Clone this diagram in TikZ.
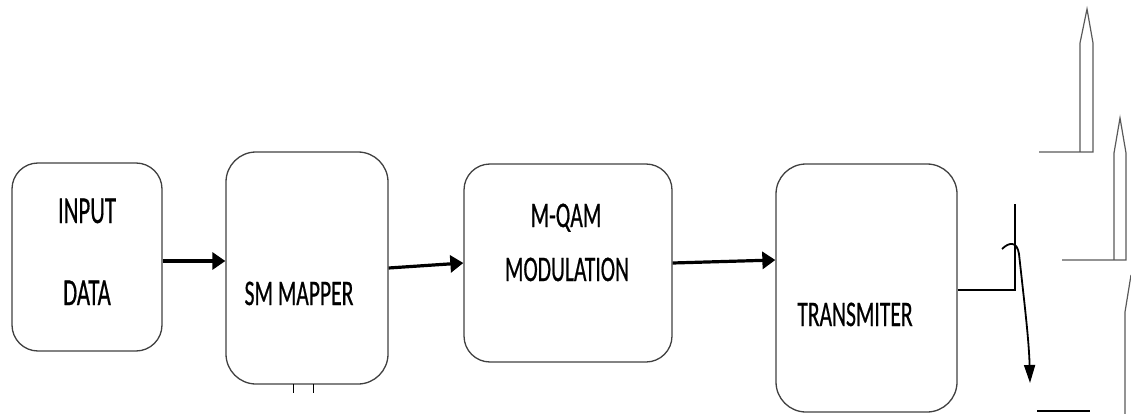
\documentclass[tikz,border=0pt]{standalone}
\usepackage{fontspec}
\usepackage{graphicx}
\setmainfont{Carlito}
\newfontfamily\lblfont[FakeBold=0.8]{Carlito}
\usetikzlibrary{arrows.meta}
\newcommand{\narrow}[1]{\scalebox{0.6}[1]{#1}}
\begin{document}
\begin{tikzpicture}[x=1pt,y=-1pt,
  blk/.style={draw=black!75,line width=1.3pt,rounded corners=26pt,inner sep=0pt},
  lbl/.style={font=\lblfont\fontsize{36}{40}\selectfont,inner sep=0pt,anchor=base,text=black},
  lblbig/.style={font=\lblfont\fontsize{38}{42}\selectfont,inner sep=0pt,anchor=base,text=black},
  flow/.style={line width=3.2pt,-{Triangle[length=13pt,width=17pt]}},
  ant/.style={draw=black!65,line width=1.2pt},
  thin/.style={draw=black,line width=1.2pt}]
\useasboundingbox (0,0) rectangle (1131,414);
% boxes
\node[blk,minimum width=150pt,minimum height=188pt] (b1) at (87,257) {};
\node[blk,minimum width=162pt,minimum height=232pt,rounded corners=30pt] (b2) at (307,268) {};
\node[blk,minimum width=208pt,minimum height=198pt] (b3) at (568,263) {};
\node[blk,minimum width=181pt,minimum height=248pt,rounded corners=30pt] (b4) at (866.5,288) {};
% labels
\node[lblbig] (t1) at (87,223) {\narrow{INPUT}};
\node[lblbig] (t2) at (87,305) {\narrow{DATA}};
\node[lbl] (t3) at (299,305) {\narrow{SM MAPPER}};
\node[lbl] (t4) at (566,227) {\narrow{M-QAM}};
\node[lbl] (t5) at (567,281) {\narrow{MODULATION}};
\node[lbl] (t6) at (855,326) {\narrow{TRANSMITER}};
% arrows
\draw[flow] ([yshift=-4pt]b1.east) -- ([yshift=7pt]b2.west);
\draw[flow] (b2.east) -- (b3.west);
\draw[flow] (b3.east) -- ([yshift=28pt]b4.west);
% ticks below SM MAPPER
\coordinate (k1) at (293,384); \coordinate (k1e) at (293,393);
\coordinate (k2) at (313,384); \coordinate (k2e) at (313,393);
\draw[thin,line width=0.9pt] (k1) -- (k1e) (k2) -- (k2e);
% feed line
\coordinate (j) at (1015,290);
\coordinate (jt) at (1015,204);
\draw[thin] ([yshift=-2pt]b4.east) -- (j) -- (jt);
% curved arrow
\coordinate (c0) at (1002,249);
\coordinate (c1) at (1019,254);
\coordinate (c2) at (1030,383);
\draw[line width=1.8pt,-{Triangle[length=18pt,width=11pt]}] (c0) .. controls (1009,242) and (1017,241) .. (c1) .. controls (1024,300) and (1029,340) .. (c2);
% bottom line
\coordinate (g0) at (1037,411); \coordinate (g1) at (1090,411);
\draw[thin] (g0) -- (g1);
% antennas
\draw[ant] (1039,152) -- (1093,152) -- (1093,43) -- (1087,9) -- (1080,43) -- (1080,152);
\draw[ant] (1062,260) -- (1126,260) -- (1126,153) -- (1120,118) -- (1114,153) -- (1114,260);
\draw[ant] (1125,414) -- (1125,312) -- (1131,275);
\end{tikzpicture}
\end{document}
